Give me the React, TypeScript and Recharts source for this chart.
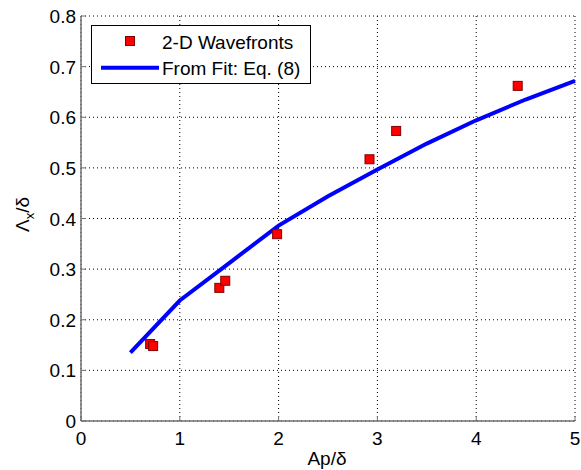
import React from 'react';
import { ComposedChart, Scatter, Line, XAxis, YAxis, CartesianGrid, Legend, Label } from 'recharts';

const xTicks = [0, 1, 2, 3, 4, 5];
const yTicks = [0, 0.1, 0.2, 0.3, 0.4, 0.5, 0.6, 0.7, 0.8];
const yTickLabels = ['0', '0.1', '0.2', '0.3', '0.4', '0.5', '0.6', '0.7', '0.8'];

const wavefrontX = [0.7, 0.73, 1.4, 1.46, 1.985, 2.92, 3.19, 4.42];
const wavefrontY = [0.152, 0.148, 0.263, 0.277, 0.369, 0.517, 0.573, 0.662];

const fitX = [0.5, 1, 1.5, 2, 2.5, 3, 3.5, 4, 4.5, 5];
const fitY = [0.135, 0.238, 0.312, 0.386, 0.444, 0.497, 0.548, 0.594, 0.635, 0.672];

const wavefrontData = wavefrontX.map((x, i) => ({ x, y: wavefrontY[i] }));
const fitData = fitX.map((x, i) => ({ x, y: fitY[i] }));

const FONT = '"Liberation Sans", Arial, Helvetica, sans-serif';
const AXIS = '#707070';
const TICK_LEN = 5;
const FS = 19;

const BottomTick = (props: any) => {
  const { x, y, payload } = props;
  return (
    <g>
      <line x1={x} y1={y} x2={x} y2={y - TICK_LEN} stroke={AXIS} strokeWidth={1} />
      <text x={x} y={y + 24} textAnchor="middle" fontSize={FS} fontFamily={FONT} fill="#000">
        {String(payload.value)}
      </text>
    </g>
  );
};

const LeftTick = (props: any) => {
  const { x, y, index } = props;
  return (
    <g>
      <line x1={x} y1={y} x2={x + TICK_LEN} y2={y} stroke={AXIS} strokeWidth={1} />
      <text x={x - 5} y={y + 7} textAnchor="end" fontSize={FS} fontFamily={FONT} fill="#000">
        {yTickLabels[index]}
      </text>
    </g>
  );
};

const TopTick = (props: any) => {
  const { x, y } = props;
  return <line x1={x} y1={y} x2={x} y2={y + TICK_LEN} stroke={AXIS} strokeWidth={1} />;
};

const RightTick = (props: any) => {
  const { x, y } = props;
  return <line x1={x} y1={y} x2={x - TICK_LEN} y2={y} stroke={AXIS} strokeWidth={1} />;
};

const SquareMarker = (props: any) => {
  const { cx, cy } = props;
  return <rect x={cx - 4.5} y={cy - 4.5} width={9} height={9} fill="#ff0000" stroke="#800000" strokeWidth={1} />;
};

const renderLegend = () => (
  <div
    style={{
      width: 220,
      height: 59,
      boxSizing: 'border-box',
      border: '1px solid #000',
      background: '#fff',
    }}
  >
    <svg width={218} height={57} style={{ display: 'block' }}>
      <rect x={33.5} y={10.5} width={9} height={9} fill="#ff0000" stroke="#800000" strokeWidth={1} />
      <text x={70} y={22.5} fontSize={FS} fontFamily={FONT} fill="#000">2-D Wavefronts</text>
      <line x1={9} y1={41.7} x2={67} y2={41.7} stroke="#0000ff" strokeWidth={4} />
      <text x={70} y={49} fontSize={FS} fontFamily={FONT} fill="#000">From Fit: Eq. (8)</text>
    </svg>
  </div>
);

const YLabel = (p: any) => {
  const vb = p.viewBox;
  const cx = vb.x + 29;
  const cy = vb.y + vb.height / 2 - 4;
  return (
    <text transform={`translate(${cx},${cy}) rotate(-90)`} textAnchor="middle" fontSize={FS} fontFamily={FONT} fill="#000">
      Λ<tspan dy={5} fontSize={13}>x</tspan>
      <tspan dy={-5}>/δ</tspan>
    </text>
  );
};

const XLabel = (p: any) => {
  const vb = p.viewBox;
  const cx = vb.x + vb.width / 2 - 1;
  return (
    <text x={cx} y={vb.y + 44} textAnchor="middle" fontSize={FS} fontFamily={FONT} fill="#000">
      Ap/δ
    </text>
  );
};

export default function App() {
  return (
    <div style={{ position: 'absolute', left: 0, top: 0, background: '#fff' }}>
      <ComposedChart width={581} height={470} margin={{ top: 16, right: 6, bottom: 0, left: 0 }}>
        <CartesianGrid stroke="#000" strokeDasharray="1 3" strokeWidth={1} />
        <XAxis
          dataKey="x"
          type="number"
          domain={[0, 5]}
          ticks={xTicks}
          height={49}
          tickSize={0}
          tickMargin={0}
          tickLine={false}
          axisLine={{ stroke: AXIS, strokeWidth: 1.5 }}
          tick={<BottomTick />}
          interval={0}
        >
          <Label content={<XLabel />} />
        </XAxis>
        <XAxis
          xAxisId="top"
          orientation="top"
          type="number"
          domain={[0, 5]}
          ticks={xTicks}
          height={0}
          tickSize={0}
          tickMargin={0}
          tickLine={false}
          axisLine={{ stroke: AXIS, strokeWidth: 1.5 }}
          tick={<TopTick />}
          interval={0}
        />
        <YAxis
          dataKey="y"
          type="number"
          domain={[0, 0.8]}
          ticks={yTicks}
          width={81}
          tickSize={0}
          tickMargin={0}
          tickLine={false}
          axisLine={{ stroke: AXIS, strokeWidth: 1.5 }}
          tick={<LeftTick />}
          interval={0}
        >
          <Label content={<YLabel />} />
        </YAxis>
        <YAxis
          yAxisId="right"
          orientation="right"
          type="number"
          domain={[0, 0.8]}
          ticks={yTicks}
          width={0}
          tickSize={0}
          tickMargin={0}
          tickLine={false}
          axisLine={{ stroke: AXIS, strokeWidth: 1.5 }}
          tick={<RightTick />}
          interval={0}
        />
        <Line
          data={fitData}
          dataKey="y"
          type="linear"
          stroke="#0000ff"
          strokeWidth={4}
          dot={false}
          activeDot={false}
          isAnimationActive={false}
          name="From Fit: Eq. (8)"
        />
        <Scatter
          data={wavefrontData}
          dataKey="y"
          shape={<SquareMarker />}
          isAnimationActive={false}
          name="2-D Wavefronts"
        />
        <Legend
          layout="vertical"
          align="center"
          verticalAlign="middle"
          wrapperStyle={{ left: 91, top: 25, width: 220, height: 59 }}
          content={renderLegend}
        />
      </ComposedChart>
    </div>
  );
}
